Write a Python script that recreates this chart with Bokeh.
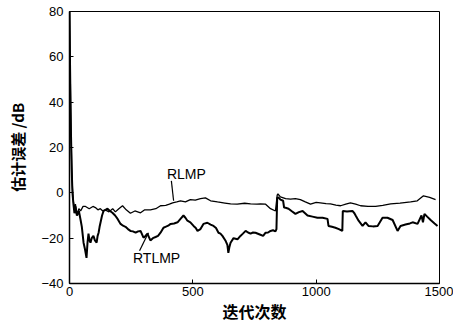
from bokeh.plotting import figure
from bokeh.models import Range1d, FixedTicker
from bokeh.core.properties import value
from bokeh.embed import file_html
from bokeh.resources import INLINE

# ---- data ----
x_ticks = [0, 500, 1000, 1500]
y_ticks = [-40, -20, 0, 20, 40, 60, 80]
x_label = "迭代次数"
y_label = "估计误差 /dB"

rlmp_x = [0, 2, 4, 6, 9, 12, 16, 20, 24, 28, 32, 38, 45, 55, 65, 80, 95, 105, 115, 125,
          135, 145, 160, 175, 186, 200, 215, 230, 247, 265, 288, 305, 328, 350, 369, 390,
          405, 418, 435, 450, 470, 490, 510, 531, 551, 572, 600, 630, 653, 680, 710, 734,
          760, 774, 795, 815, 835, 842, 845, 855, 876, 896, 916, 936, 956, 977, 1000, 1017,
          1040, 1058, 1080, 1099, 1120, 1139, 1160, 1180, 1210, 1241, 1270, 1302, 1340,
          1383, 1410, 1435, 1460, 1484]
rlmp_y = [80, 62, 45, 28, 12, 2, -4, -7, -5, -8, -9, -7, -8, -6, -6, -7, -6, -6.5, -7.5, -7,
          -8, -7.5, -8.4, -7, -8.4, -7, -5.7, -7.5, -9, -8, -8.8, -7.5, -7.5, -7, -5.7, -5.5,
          -5, -4.4, -4, -3.5, -4, -3, -3.2, -2.6, -2.2, -3.5, -4, -4.5, -4.9, -5, -4.6, -4.9,
          -5, -4.9, -5, -7, -8, -1, -0.5, -1.8, -2.6, -2.8, -2.6, -3, -4, -5, -4.2, -4.4,
          -4.8, -4.9, -5.4, -5.7, -5, -4.4, -5, -5.7, -6, -6, -5.5, -4.9, -4.5,
          -4, -3.5, -1.3, -2, -3]

rtlmp_x = [0, 2, 4, 6, 9, 12, 16, 20, 24, 30, 38, 45, 50, 57, 63, 69, 73, 77, 81, 85, 90,
           97, 103, 110, 114, 118, 122, 126, 132, 138, 146, 154, 164, 174, 185, 195, 207,
           217, 227, 237, 247, 257, 268, 278, 288, 300, 308, 316, 322, 328, 338, 349, 359,
           369, 381, 389, 400, 410, 424, 438, 450, 462, 470, 478, 490, 503, 512, 519, 531,
           543, 559, 572, 584, 594, 604, 612, 620, 632, 640, 644, 648, 653, 665, 681, 693,
           703, 714, 724, 734, 744, 754, 774, 785, 795, 805, 815, 825, 835, 839, 842, 847,
           855, 866, 870, 876, 888, 900, 916, 930, 945, 965, 985, 1005, 1026, 1046, 1050,
           1064, 1078, 1092, 1106, 1108, 1125, 1147, 1155, 1160, 1172, 1188, 1200, 1212,
           1230, 1249, 1269, 1289, 1310, 1330, 1342, 1362, 1380, 1391, 1411, 1427, 1433,
           1439, 1450, 1464, 1480, 1492]
rtlmp_y = [80, 58, 40, 26, 10, 0, -5, -9, -6, -10, -8, -12, -15, -22, -25, -28.7, -22, -18,
           -21, -22, -20, -19, -21, -22, -19, -17.6, -15, -13, -10, -8, -7.5, -7, -8, -8.8,
           -10, -11.5, -13.7, -14.5, -15, -16, -16.8, -17, -17.6, -17, -16.8, -19.8, -19,
           -18, -19.5, -21, -20, -19.5, -19, -17.6, -15.4, -15, -14.5, -13.7, -13.5, -13,
           -11.5, -10, -11, -12.3, -13, -14.6, -15.5, -16.8, -16, -13.7, -13.2, -14, -14.6,
           -15.5, -17.6, -18, -19, -21, -23, -26.5, -24, -22, -20, -20.5, -19, -18, -16.8,
           -17.5, -18, -17.5, -17.6, -18.5, -19, -17.6, -17.5, -16.8, -16.5, -17, -16, -2.2,
           -2, -3, -3.5, -6.5, -6.6, -7, -8, -9.3, -8.5, -8, -10, -10.5, -11, -11, -11.5,
           -14.6, -15, -15.4, -16, -16.8, -8, -8.2, -8, -9, -10, -12.3, -14.6, -13, -14.6,
           -14.8, -14.6, -11, -11, -12, -16.8, -14.6, -14, -13.5, -13, -13.7, -10, -13,
           -9.3, -10.5, -12, -13.5, -14.6]

labels = ["RLMP", "RTLMP"]
label_x = [474, 353]
label_y = [8.4, -28.9]
leader_x0 = [413, 284]
leader_y0 = [5.3, -25.6]
leader_x1 = [422, 320]
leader_y1 = [-3.5, -17.6]

# ---- figure ----
p = figure(width=453, height=325, output_backend="svg", toolbar_location=None,
           x_range=Range1d(0, 1500), y_range=Range1d(-40, 80),
           min_border_left=69, min_border_right=14, min_border_top=11, min_border_bottom=42)
p.background_fill_color = "white"
p.border_fill_color = "white"
p.outline_line_color = "black"
p.outline_line_width = 1
p.xgrid.visible = False
p.ygrid.visible = False

p.line(rlmp_x, rlmp_y, line_color="black", line_width=1.3)
p.line(rtlmp_x, rtlmp_y, line_color="black", line_width=2)

p.segment(x0=leader_x0, y0=leader_y0, x1=leader_x1, y1=leader_y1,
          line_color="black", line_width=1.2)
p.text(x=label_x, y=label_y, text=labels, text_align="center", text_baseline="middle",
       text_font=value("Liberation Sans"), text_font_size="14px", text_color="black")

for ax in (p.xaxis[0], p.yaxis[0]):
    ax.axis_line_width = 1.5
    ax.axis_line_color = "black"
    ax.major_tick_in = 4
    ax.major_tick_out = 0
    ax.minor_tick_in = 0
    ax.minor_tick_out = 0
    ax.major_label_text_font = "Liberation Sans"
    ax.major_label_text_font_size = "13px"
    ax.major_label_text_color = "black"
    ax.axis_label_text_font = "Noto Sans CJK SC"
    ax.axis_label_text_font_style = "bold"
    ax.axis_label_text_color = "black"

p.xaxis[0].ticker = FixedTicker(ticks=x_ticks)
p.yaxis[0].ticker = FixedTicker(ticks=y_ticks)
p.xaxis[0].axis_label = x_label
p.yaxis[0].axis_label = y_label
p.xaxis[0].axis_label_text_font_size = "16px"
p.yaxis[0].axis_label_text_font_size = "15px"
p.xaxis[0].major_label_standoff = 3
p.xaxis[0].axis_label_standoff = 0
p.yaxis[0].major_label_standoff = 6
p.yaxis[0].axis_label_standoff = 10

open("out.html", "w").write(file_html(p, INLINE))
